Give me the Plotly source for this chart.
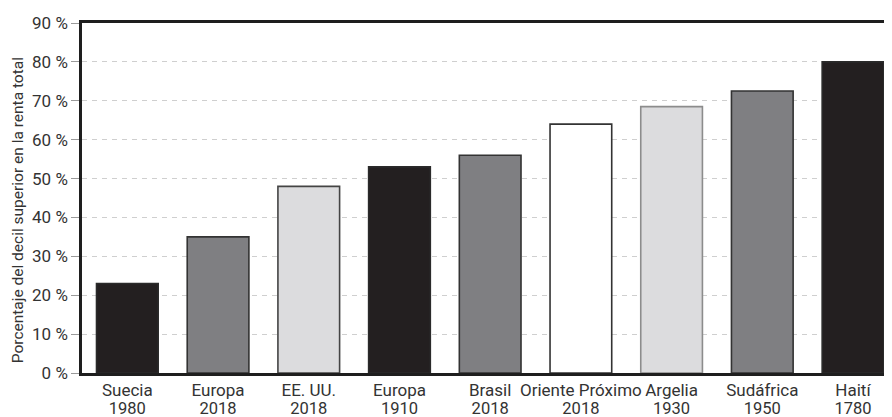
import plotly.graph_objects as go

# Data
regions = ["Suecia", "Europa", "EE. UU.", "Europa", "Brasil", "Oriente Próximo", "Argelia", "Sudáfrica", "Haití"]
years = ["1980", "2018", "2018", "1910", "2018", "2018", "1930", "1950", "1780"]
shares = [23, 35, 48, 53, 56, 64, 68.5, 72.5, 80]
y_ticks = [0, 10, 20, 30, 40, 50, 60, 70, 80, 90]
y_tick_labels = ["0 %", "10 %", "20 %", "30 %", "40 %", "50 %", "60 %", "70 %", "80 %", "90 %"]
y_title = "Porcentaje del decil superior en la renta total"

# Styles
fill_colors = ["#231f20", "#7f7f82", "#dcdcde", "#231f20", "#7f7f82", "#ffffff", "#dcdcde", "#7f7f82", "#231f20"]
line_colors = ["#2a2a2a", "#333333", "#444444", "#2a2a2a", "#333333", "#333333", "#8c8c8c", "#333333", "#2a2a2a"]

idx = list(range(len(regions)))

FONT = "Roboto"
TXT = "#333333"
XRANGE = [-0.5, 8.43]

fig = go.Figure()
fig.add_trace(
    go.Bar(
        x=idx,
        y=shares,
        width=0.68,
        marker=dict(color=fill_colors, line=dict(color=line_colors, width=1.6)),
        hoverinfo="skip",
    )
)
# invisible helper trace on the second x axis (year row of the labels)
fig.add_trace(
    go.Scatter(x=idx, y=[0] * len(idx), xaxis="x2", mode="markers",
               marker=dict(opacity=0), hoverinfo="skip", showlegend=False)
)

# the page body adds an 8px margin, so the figure is made 8px smaller
fig.update_layout(
    width=884,
    height=409,
    margin=dict(l=74, r=0, t=15, b=44),
    paper_bgcolor="white",
    plot_bgcolor="white",
    showlegend=False,
    font=dict(family=FONT, color=TXT),
    annotations=[
        dict(
            text=y_title,
            xref="paper",
            yref="paper",
            x=0,
            y=0.465,
            xshift=-64,
            xanchor="center",
            yanchor="middle",
            textangle=-90,
            showarrow=False,
            font=dict(family=FONT, size=15.5, color=TXT),
        )
    ],
    xaxis=dict(
        tickmode="array",
        tickvals=idx,
        ticktext=regions,
        range=XRANGE,
        showline=True,
        linecolor="#1e1e1e",
        linewidth=2.5,
        mirror=True,
        showgrid=False,
        ticks="",
        ticklabelstandoff=0,
        tickfont=dict(family=FONT, size=17, color=TXT),
        automargin=False,
        fixedrange=True,
    ),
    xaxis2=dict(
        overlaying="x",
        anchor="y",
        side="bottom",
        tickmode="array",
        tickvals=idx,
        ticktext=years,
        range=XRANGE,
        showline=False,
        showgrid=False,
        zeroline=False,
        ticks="",
        ticklabelstandoff=23,
        tickfont=dict(family=FONT, size=16.5, color=TXT),
        automargin=False,
        fixedrange=True,
    ),
    yaxis=dict(
        range=[0, 90],
        tickmode="array",
        tickvals=y_ticks,
        ticktext=y_tick_labels,
        showline=True,
        linecolor="#1e1e1e",
        linewidth=2.5,
        showgrid=True,
        gridcolor="#cfcfcf",
        gridwidth=1,
        griddash="5px,5px",
        ticks="outside",
        ticklen=8,
        tickcolor="#9a9a9a",
        tickwidth=1,
        tickfont=dict(family=FONT, size=17, color=TXT),
        zeroline=False,
        automargin=False,
        fixedrange=True,
    ),
)

fig.write_html("out.html")
